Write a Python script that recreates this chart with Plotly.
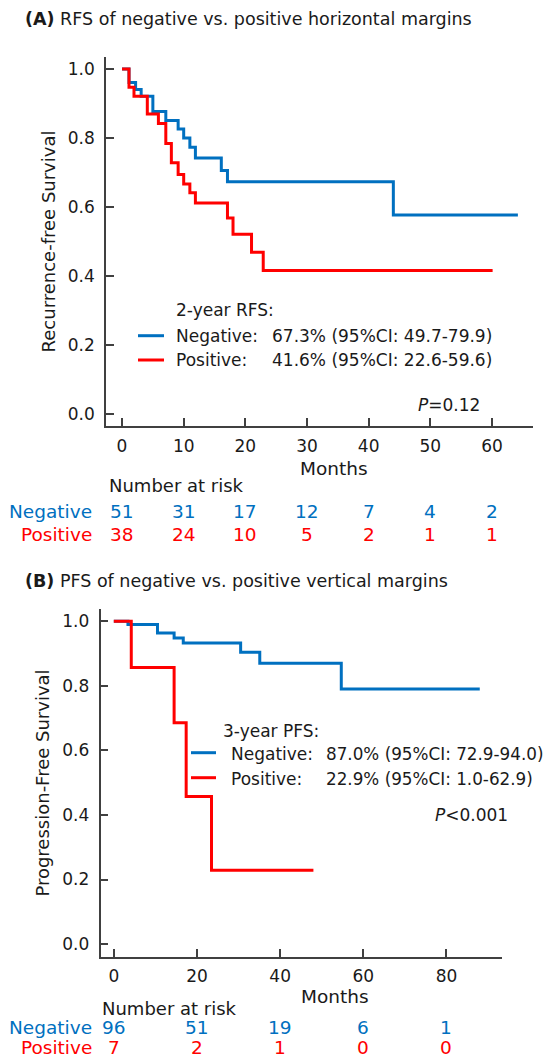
import plotly.graph_objects as go

W, H = 552, 1059
FONT = "DejaVu Sans"
BLUE = "#0070C0"
RED = "#FF0000"
AX = "#404040"

# ---------------- data ----------------
# Panel A: RFS by horizontal margin
a_neg_t = [0, 1.13, 2.2, 3.1, 5.0, 7.1, 9.1, 10.0, 11.0, 11.9, 16.1, 17.1, 44.0, 64.2]
a_neg_s = [1.0, 0.961, 0.941, 0.921, 0.877, 0.851, 0.826, 0.800, 0.773, 0.742, 0.706, 0.673, 0.577, 0.577]
a_pos_t = [0, 1.13, 1.94, 4.1, 5.9, 7.1, 8.0, 9.1, 10.0, 11.0, 11.9, 17.1, 18.0, 21.0, 22.9, 60.1]
a_pos_s = [1.0, 0.947, 0.921, 0.870, 0.842, 0.784, 0.728, 0.694, 0.667, 0.641, 0.612, 0.568, 0.521, 0.469, 0.416, 0.416]
a_ticks = [0, 10, 20, 30, 40, 50, 60]
a_risk_neg = [51, 31, 17, 12, 7, 4, 2]
a_risk_pos = [38, 24, 10, 5, 2, 1, 1]

# Panel B: PFS by vertical margin
b_neg_t = [0, 3.4, 10.5, 14.5, 16.7, 30.5, 35.1, 54.7, 88.0]
b_neg_s = [1.0, 0.990, 0.964, 0.948, 0.933, 0.904, 0.870, 0.790, 0.790]
b_pos_t = [0, 4.2, 14.5, 17.4, 23.5, 48.0]
b_pos_s = [1.0, 0.857, 0.686, 0.457, 0.229, 0.229]
b_ticks = [0, 20, 40, 60, 80]
b_risk_neg = [96, 51, 19, 6, 1]
b_risk_pos = [7, 2, 1, 0, 0]

y_ticks = [0.0, 0.2, 0.4, 0.6, 0.8, 1.0]


def px(x):
    return x / W


def py(y):
    return 1 - y / H


fig = go.Figure()

# curves (blue first, red on top)
fig.add_trace(go.Scatter(x=a_neg_t, y=a_neg_s, mode="lines", line=dict(shape="hv", color=BLUE, width=3),
                         xaxis="x", yaxis="y", showlegend=False, hoverinfo="skip"))
fig.add_trace(go.Scatter(x=a_pos_t, y=a_pos_s, mode="lines", line=dict(shape="hv", color=RED, width=3),
                         xaxis="x", yaxis="y", showlegend=False, hoverinfo="skip"))
fig.add_trace(go.Scatter(x=b_neg_t, y=b_neg_s, mode="lines", line=dict(shape="hv", color=BLUE, width=3),
                         xaxis="x2", yaxis="y2", showlegend=False, hoverinfo="skip"))
fig.add_trace(go.Scatter(x=b_pos_t, y=b_pos_s, mode="lines", line=dict(shape="hv", color=RED, width=3),
                         xaxis="x2", yaxis="y2", showlegend=False, hoverinfo="skip"))

axis_common = dict(showline=True, linecolor=AX, linewidth=1.5, ticks="inside", ticklen=8,
                   tickwidth=1.5, tickcolor=AX, showgrid=False, zeroline=False,
                   tickfont=dict(family=FONT, size=17, color="#1a1a1a"))

fig.update_layout(
    width=W, height=H, margin=dict(l=0, r=0, t=0, b=0),
    paper_bgcolor="white", plot_bgcolor="white",
    font=dict(family=FONT, color="#1a1a1a"),
    xaxis=dict(domain=[px(98), px(525)], range=[-2.6, 66.65], tickvals=a_ticks, anchor="y",
               ticklabelstandoff=4, **axis_common),
    yaxis=dict(domain=[py(418), py(49)], range=[-0.035, 1.035], tickvals=y_ticks, tickformat=".1f",
               anchor="x", ticklabelstandoff=6,
               title=dict(text="Recurrence-free Survival", font=dict(family=FONT, size=18, color="#1a1a1a"),
                          standoff=8),
               **axis_common),
    xaxis2=dict(domain=[px(92.5), px(493.8)], range=[-3.2, 93.3], tickvals=b_ticks, anchor="y2",
                ticklabelstandoff=3, **axis_common),
    yaxis2=dict(domain=[py(949), py(601)], range=[-0.04, 1.038], tickvals=y_ticks, tickformat=".1f",
                anchor="x2", ticklabelstandoff=6,
                title=dict(text="Progression-Free Survival", font=dict(family=FONT, size=18, color="#1a1a1a"),
                           standoff=8),
                **axis_common),
)

ann = []


def text(x, y, s, size=17, color="#1a1a1a", xanchor="left", xref="paper"):
    ann.append(dict(x=x, y=y, xref=xref, yref="paper", text=s, showarrow=False,
                    xanchor=xanchor, yanchor="middle",
                    font=dict(family=FONT, size=size, color=color)))


# titles
text(px(15), py(11), "<b>(A)</b> RFS of negative vs. positive horizontal margins", size=17.5)
text(px(15), py(573), "<b>(B)</b> PFS of negative vs. positive vertical margins", size=17.5)

# legends panel A
text(px(166), py(301.7), "2-year RFS:")
text(px(166), py(327.7), "Negative:")
text(px(262), py(327.7), "67.3% (95%CI: 49.7-79.9)")
text(px(166), py(351.7), "Positive:")
text(px(262), py(351.7), "41.6% (95%CI: 22.6-59.6)")
text(px(408), py(396.7), "<i>P</i>=0.12")

# legends panel B
text(px(213), py(723), "3-year PFS:")
text(px(220.5), py(746.3), "Negative:")
text(px(316), py(746.3), "87.0% (95%CI: 72.9-94.0)", size=16.8)
text(px(220.5), py(771.3), "Positive:")
text(px(316), py(771.3), "22.9% (95%CI: 1.0-62.9)", size=16.8)
text(px(425), py(807), "<i>P</i>&lt;0.001")

# Months labels
text(px(326), py(460.6), "Months", size=18.5, xanchor="center")
text(px(327), py(988.5), "Months", size=18.5, xanchor="center")

# number at risk A
text(px(98.8), py(477.5), "Number at risk", size=18)
text(px(86.4), py(503), "Negative", size=18.5, color=BLUE, xanchor="right")
text(px(86.4), py(527), "Positive", size=18.5, color=RED, xanchor="right")
for t, n in zip(a_ticks, a_risk_neg):
    text(t, py(503), str(n), size=18.5, color=BLUE, xanchor="center", xref="x")
for t, n in zip(a_ticks, a_risk_pos):
    text(t, py(527), str(n), size=18.5, color=RED, xanchor="center", xref="x")

# number at risk B
text(px(92.4), py(1000), "Number at risk", size=18)
text(px(86.4), py(1019), "Negative", size=18.5, color=BLUE, xanchor="right")
text(px(86.4), py(1039), "Positive", size=18.5, color=RED, xanchor="right")
for t, n in zip(b_ticks, b_risk_neg):
    text(t, py(1019), str(n), size=18.5, color=BLUE, xanchor="center", xref="x2")
for t, n in zip(b_ticks, b_risk_pos):
    text(t, py(1039), str(n), size=18.5, color=RED, xanchor="center", xref="x2")

fig.update_layout(annotations=ann)

# legend line samples
shapes = []
for (x0, x1, y, c) in [(130, 156, 327.7, BLUE), (130, 156, 352, RED),
                       (183, 208, 744.7, BLUE), (183, 208, 769.7, RED)]:
    shapes.append(dict(type="line", xref="paper", yref="paper", x0=px(x0), x1=px(x1), y0=py(y), y1=py(y),
                       line=dict(color=c, width=3)))
fig.update_layout(shapes=shapes)

fig.write_html("out.html")
